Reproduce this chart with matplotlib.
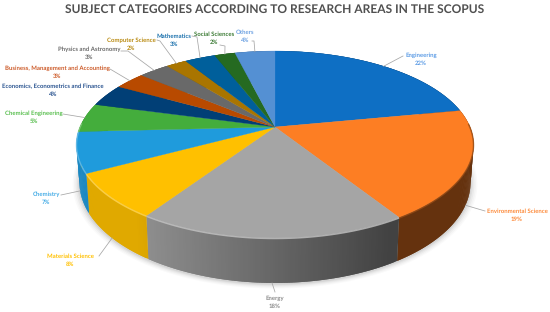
import numpy as np
import matplotlib
matplotlib.use("Agg")
import matplotlib.pyplot as plt
from matplotlib.collections import PolyCollection
from matplotlib.colors import to_rgb

plt.rcParams["text.hinting"] = "no_hinting"
plt.rcParams["text.hinting_factor"] = 1

categories = ["Engineering", "Environmental Science", "Energy", "Materials Science", "Chemistry",
              "Chemical Engineering", "Economics, Econometrics and Finance",
              "Business, Management and Accounting", "Physics and Astronomy", "Computer Science",
              "Mathematics", "Social Sciences", "Others"]
values = [22.0, 19.0, 18.4, 7.8, 7.0, 5.0, 3.9, 3.0, 3.0, 2.0, 3.0, 2.0, 3.9]
percent_labels = ["22%", "19%", "18%", "8%", "7%", "5%", "4%", "3%", "3%", "2%", "3%", "2%", "4%"]

colors = ["#0E6FC4", "#FD7E23", "#A5A5A5", "#FFC000", "#1F9BDC", "#44AD3C", "#013F76",
          "#B84A00", "#696969", "#A97500", "#005F9B", "#256A21", "#5490D3"]
text_colors = ["#5B9BE5", "#FD8A3A", "#8C8C8C", "#FFC000", "#45ACE6", "#58BE4E", "#2A5490",
               "#CC5A28", "#6A6A6A", "#B98A10", "#1A70AC", "#3A7A33", "#6EA2E2"]
label_pos = [(421, 55), (517, 211), (275, 298), (70, 256), (46, 194), (34, 113), (53, 86),
             (57, 68), (89, 49), (131, 40), (174, 36), (214, 34), (245, 32)]
leader_elbow = [(403, 56), (485, 211), (275, 292), (99, 256), (61, 195), (63, 114), None,
                (110, 69), (128, 51), (160, 41), (197, 37), (225, 46), (254, 41)]
leader_start = [None, None, None, None, None, None, None, None, (121, 51), (157, 40), (192, 36),
                (220, 45), (252, 41)]

CX, CY, A, B, K, T = 275.0, 127.0, 195.0, 90.2, 0.187, 36.6
LABEL_FONT = ["Lato", "DejaVu Sans"]


def project(theta, r=1.0, drop=False):
    x, y = r * np.sin(theta), r * np.cos(theta)
    w = 1 + K * y
    sx = CX + A * x / w
    sy = CY - B * y / w
    if drop:
        sx = CX + (sx - CX) * 0.985
        sy = sy + T / w
    return sx, sy


def wall_factor(x):
    return np.clip(0.86 - (x - 147) * 0.47 / 250, 0.40, 0.88)


fig = plt.figure(figsize=(5.5, 3.12), dpi=100, facecolor="white")
ax = fig.add_axes([0, 0, 1, 1])
ax.set_xlim(0, 550)
ax.set_ylim(312, 0)
ax.axis("off")

frac = np.cumsum([0] + values) / sum(values)
edges = frac * 2 * np.pi
full = np.linspace(0, 2 * np.pi, 361)

# soft shadow
bx, by = project(full, drop=True)
for grow, alpha in [(1.035, 0.02), (1.028, 0.025), (1.02, 0.035), (1.012, 0.045), (1.005, 0.05)]:
    ax.fill(CX + (bx - CX) * grow, 150 + (by - 150) * grow + 1, color="black", alpha=alpha, lw=0, zorder=1)

# side walls: each slice overlaps the next one so no seams appear
for i, c in enumerate(colors):
    t = np.linspace(edges[i], edges[i + 1], max(4, int(values[i] * 6)))
    rgb = np.array(to_rgb(c))
    polys, cols = [], []
    for j in range(len(t) - 1):
        t0, t1 = t[j], t[min(j + 2, len(t) - 1)]
        x0, y0 = project(t0)
        x1, y1 = project(t1)
        x2, y2 = project(t1, drop=True)
        x3, y3 = project(t0, drop=True)
        polys.append([(x0, y0), (x1, y1), (x2, y2), (x3, y3)])
        mx, _ = project(t[j])
        cols.append(tuple(rgb * wall_factor(mx)))
    ax.add_collection(PolyCollection(polys, facecolors=cols, edgecolors="none", zorder=2))

# top faces
for i, c in enumerate(colors):
    t = np.linspace(edges[i], edges[i + 1], max(4, int(values[i] * 6)))
    sx, sy = project(t)
    ax.fill(np.r_[CX, sx], np.r_[CY, sy], color=c, lw=0.2, zorder=3)

# bevel along the front rim
for i, c in enumerate(colors):
    t = np.linspace(edges[i], edges[i + 1], max(4, int(values[i] * 6)))
    sx, sy = project(t)
    rgb = np.array(to_rgb(c))
    front = np.cos(t) < 0.05
    if front.sum() < 2:
        continue
    rim = tuple(rgb * 0.6) if i == 1 else tuple(rgb + (1 - rgb) * 0.35)
    ax.plot(sx[front], sy[front] + 0.6, color=rim, lw=1.0, alpha=0.8, zorder=4, solid_capstyle="butt")

# leaders and labels
mids = (edges[:-1] + edges[1:]) / 2
for i, name in enumerate(categories):
    tx, ty = label_pos[i]
    ax.text(tx, ty, name, color=text_colors[i], fontsize=4.45, fontweight="bold", family=LABEL_FONT,
            ha="center", va="center", zorder=6)
    ax.text(tx, ty + 8, percent_labels[i], color=text_colors[i], fontsize=4.45, fontweight="bold",
            family=LABEL_FONT, ha="center", va="center", zorder=6)
    if leader_elbow[i] is None:
        continue
    ex, ey = project(mids[i], drop=np.cos(mids[i]) < -0.1)
    pts = ([leader_start[i]] if leader_start[i] else []) + [leader_elbow[i], (float(ex), float(ey))]
    xs, ys = zip(*pts)
    ax.plot(xs, ys, color="#a6a6a6", lw=0.55, zorder=5)

ax.text(275, 9, "SUBJECT CATEGORIES ACCORDING TO RESEARCH AREAS IN THE SCOPUS", color="#505050",
        fontsize=8.72, fontweight="bold", family=LABEL_FONT, ha="center", va="center")

fig.savefig("out.png", dpi=100, facecolor="white")
